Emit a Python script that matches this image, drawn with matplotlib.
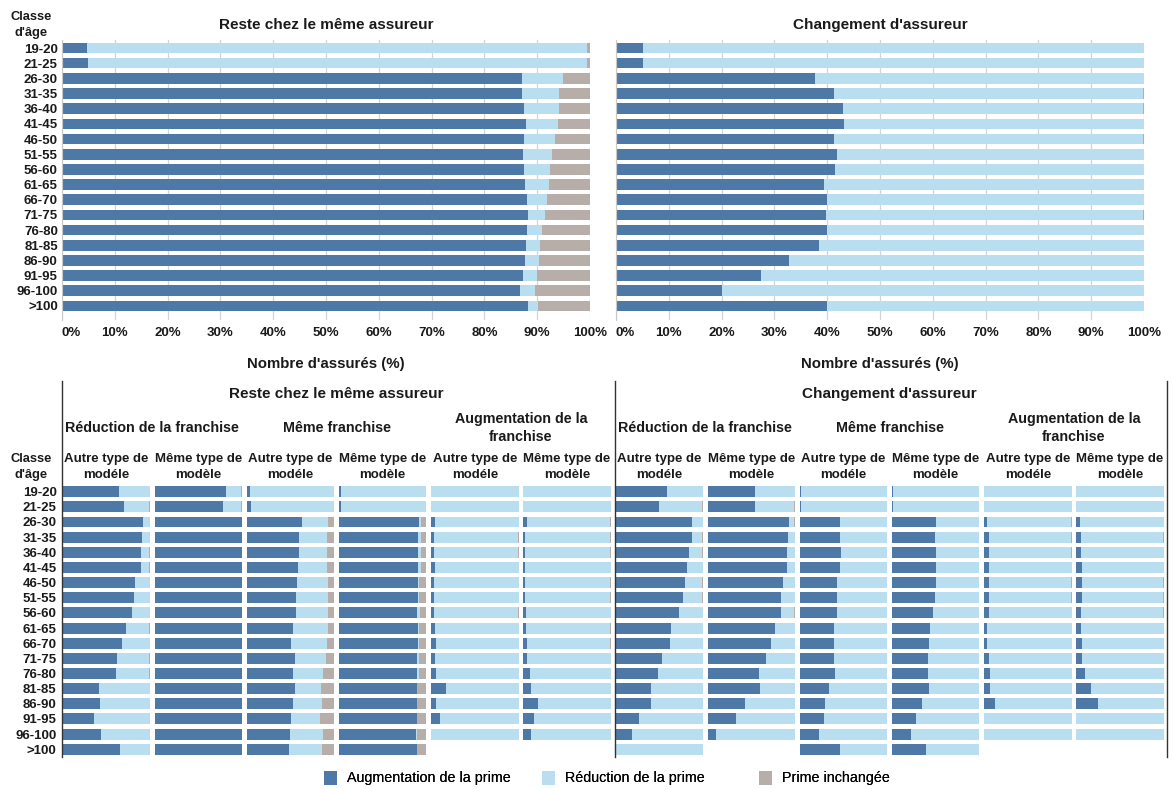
import numpy as np
import matplotlib
matplotlib.use("Agg")
import matplotlib.pyplot as plt
from matplotlib.patches import Patch
from matplotlib.lines import Line2D

plt.rcParams['font.family'] = ['Liberation Sans', 'DejaVu Sans']

# ---------------- DATA ----------------
age_classes = ["19-20", "21-25", "26-30", "31-35", "36-40", "41-45", "46-50", "51-55", "56-60",
               "61-65", "66-70", "71-75", "76-80", "81-85", "86-90", "91-95", "96-100", ">100"]
series_labels = ["Augmentation de la prime", "Réduction de la prime", "Prime inchangée"]
pct_ticks = [0, 10, 20, 30, 40, 50, 60, 70, 80, 90, 100]

# Top panels
stay_inc = [4.8, 5.0, 87.1, 87.1, 87.5, 87.8, 87.5, 87.3, 87.5, 87.7, 88.0, 88.2, 88.0, 87.8, 87.7, 87.3, 86.7, 88.2]
stay_red = [94.7, 94.5, 7.7, 7.0, 6.6, 6.1, 5.9, 5.5, 5.0, 4.6, 3.9, 3.2, 2.9, 2.7, 2.6, 2.7, 2.9, 2.0]
stay_unch = [0.5, 0.5, 5.2, 5.9, 5.9, 6.1, 6.6, 7.2, 7.5, 7.7, 8.1, 8.6, 9.1, 9.5, 9.7, 10.0, 10.4, 9.8]

chg_inc = [5.2, 5.2, 37.7, 41.3, 43.0, 43.2, 41.3, 41.8, 41.5, 39.3, 39.9, 39.8, 39.9, 38.4, 32.7, 27.5, 20.1, 39.9]
chg_red = [94.8, 94.8, 62.3, 58.5, 56.8, 56.8, 58.5, 58.2, 58.5, 60.7, 60.1, 60.0, 60.1, 61.6, 67.3, 72.5, 79.9, 60.1]
chg_unch = [0, 0, 0, 0.2, 0.2, 0, 0.2, 0, 0, 0, 0, 0.2, 0, 0, 0, 0, 0, 0]

NA = np.nan
# Bottom panels: stay (Reste chez le même assureur)
s_redf_autre_inc = [65.0, 70.4, 92.7, 91.5, 90.4, 90.4, 83.1, 81.9, 79.2, 72.3, 68.1, 62.7, 61.2, 41.5, 43.1, 36.2, 44.2, 66.5]
s_redf_autre_red = [35.0, 28.8, 7.3, 8.5, 8.8, 8.8, 16.9, 18.1, 20.8, 26.9, 31.9, 36.5, 38.0, 58.5, 56.9, 63.8, 55.8, 33.5]
s_redf_autre_unch = [0, 0.8, 0, 0, 0.8, 0.8, 0, 0, 0, 0.8, 0, 0.8, 0.8, 0, 0, 0, 0, 0]

s_redf_meme_inc = [82.1, 77.9, 100, 100, 100, 100, 100, 100, 100, 100, 100, 100, 100, 100, 100, 100, 100, 100]
s_redf_meme_red = [16.9, 21.1, 0, 0, 0, 0, 0, 0, 0, 0, 0, 0, 0, 0, 0, 0, 0, 0]
s_redf_meme_unch = [1.0, 1.0, 0, 0, 0, 0, 0, 0, 0, 0, 0, 0, 0, 0, 0, 0, 0, 0]

s_samef_autre_inc = [3.4, 5.0, 63.0, 60.3, 60.3, 58.8, 57.6, 56.1, 56.1, 53.4, 50.8, 55.0, 53.4, 55.0, 53.4, 50.8, 49.2, 48.1]
s_samef_autre_red = [96.6, 94.2, 29.7, 30.9, 30.9, 32.4, 35.1, 36.6, 36.6, 39.3, 40.4, 35.1, 34.0, 29.7, 32.9, 32.8, 38.2, 38.2]
s_samef_autre_unch = [0, 0.8, 7.3, 8.8, 8.8, 8.8, 7.3, 7.3, 7.3, 7.3, 8.8, 9.9, 12.6, 15.3, 13.7, 16.4, 12.6, 13.7]

s_samef_meme_inc = [2.7, 2.7, 92.0, 90.2, 90.2, 90.2, 90.9, 90.2, 89.0, 90.2, 90.2, 89.0, 89.0, 89.0, 89.0, 89.0, 87.9, 89.0]
s_samef_meme_red = [96.5, 96.5, 1.6, 3.4, 3.4, 3.4, 1.1, 1.5, 3.4, 1.1, 0.8, 2.0, 2.0, 0.8, 0.8, 0.8, 1.9, 0.8]
s_samef_meme_unch = [0.8, 0.8, 6.4, 6.4, 6.4, 6.4, 8.0, 8.3, 7.6, 8.7, 9.0, 9.0, 9.0, 10.2, 10.2, 10.2, 10.2, 10.2]

s_augf_autre_inc = [0, 0, 4.2, 3.0, 3.0, 4.5, 3.0, 3.0, 3.0, 4.2, 5.7, 4.2, 5.7, 16.7, 5.7, 9.8, 0, NA]
s_augf_autre_red = [100, 100, 95.8, 96.2, 96.2, 95.5, 97.0, 97.0, 96.2, 95.8, 94.3, 95.8, 94.3, 83.3, 94.3, 90.2, 100, NA]
s_augf_autre_unch = [0, 0, 0, 0.8, 0.8, 0, 0, 0, 0.8, 0, 0, 0, 0, 0, 0, 0, 0, NA]

s_augf_meme_inc = [0, 0, 4.2, 1.5, 1.5, 1.5, 1.5, 1.5, 3.1, 2.7, 4.2, 4.2, 7.3, 8.5, 17.0, 12.7, 8.5, NA]
s_augf_meme_red = [100, 100, 95.0, 97.7, 97.7, 98.5, 97.7, 97.7, 96.9, 96.5, 95.0, 95.8, 92.7, 91.5, 83.0, 87.3, 91.5, NA]
s_augf_meme_unch = [0, 0, 0.8, 0.8, 0.8, 0, 0.8, 0.8, 0, 0.8, 0.8, 0, 0, 0, 0, 0, 0, NA]

# Bottom panels: change (Changement d'assureur)
c_redf_autre_inc = [58.6, 50.2, 87.4, 87.4, 84.7, 82.0, 79.3, 77.8, 72.4, 64.0, 62.8, 52.9, 48.7, 40.6, 40.6, 26.8, 19.5, 0]
c_redf_autre_red = [41.4, 49.0, 12.6, 11.8, 14.5, 18.0, 19.9, 21.4, 27.6, 36.0, 37.2, 47.1, 51.3, 59.4, 59.4, 73.2, 80.5, 100]
c_redf_autre_unch = [0, 0.8, 0, 0.8, 0.8, 0, 0.8, 0.8, 0, 0, 0, 0, 0, 0, 0, 0, 0, 0]

c_redf_meme_inc = [54.8, 54.8, 93.2, 92.0, 90.5, 90.5, 86.3, 83.7, 83.7, 76.8, 72.6, 67.3, 58.9, 60.5, 42.6, 33.1, 9.5, NA]
c_redf_meme_red = [45.2, 44.4, 6.0, 8.0, 9.5, 9.5, 13.7, 16.3, 15.5, 23.2, 27.4, 32.7, 41.1, 39.5, 57.4, 66.9, 90.5, NA]
c_redf_meme_unch = [0, 0.8, 0.8, 0, 0, 0, 0, 0, 0.8, 0, 0, 0, 0, 0, 0, 0, 0, NA]

c_samef_autre_inc = [1.5, 1.5, 45.6, 45.6, 46.8, 45.6, 42.6, 42.6, 42.6, 38.8, 38.8, 38.8, 39.9, 33.1, 28.9, 27.4, 22.1, 45.6]
c_samef_autre_red = [98.5, 97.7, 53.6, 53.6, 52.4, 53.6, 56.6, 56.6, 56.6, 60.4, 60.4, 60.4, 60.1, 66.9, 71.1, 72.6, 77.9, 54.4]
c_samef_autre_unch = [0, 0.8, 0.8, 0.8, 0.8, 0.8, 0.8, 0.8, 0.8, 0.8, 0.8, 0.8, 0, 0, 0, 0, 0, 0]

c_samef_meme_inc = [1.1, 1.1, 50.6, 49.1, 50.6, 50.6, 50.6, 49.1, 47.5, 43.8, 42.3, 40.8, 40.8, 42.3, 34.0, 27.2, 21.9, 39.2]
c_samef_meme_red = [98.9, 98.9, 48.6, 50.1, 48.6, 48.6, 48.6, 50.1, 51.7, 55.4, 56.9, 58.4, 58.4, 56.9, 66.0, 72.8, 78.1, 60.8]
c_samef_meme_unch = [0, 0, 0.8, 0.8, 0.8, 0.8, 0.8, 0.8, 0.8, 0.8, 0.8, 0.8, 0.8, 0.8, 0, 0, 0, 0]

c_augf_autre_inc = [0, 0, 3.8, 5.3, 5.3, 5.3, 5.3, 5.3, 5.3, 3.8, 3.8, 5.3, 6.8, 6.8, 12.1, 0, 0, NA]
c_augf_autre_red = [100, 100, 95.4, 93.9, 93.9, 94.7, 93.9, 93.9, 94.7, 96.2, 96.2, 94.7, 93.2, 93.2, 87.9, 100, 100, NA]
c_augf_autre_unch = [0, 0, 0.8, 0.8, 0.8, 0, 0.8, 0.8, 0, 0, 0, 0, 0, 0, 0, 0, 0, NA]

c_augf_meme_inc = [0, 0, 4.2, 5.7, 5.7, 6.8, 6.8, 6.8, 5.7, 5.7, 6.8, 6.8, 9.9, 16.7, 24.7, 0, 0, NA]
c_augf_meme_red = [100, 100, 95.8, 93.5, 94.3, 93.2, 92.4, 92.4, 93.5, 94.3, 93.2, 93.2, 90.1, 83.3, 75.3, 100, 100, NA]
c_augf_meme_unch = [0, 0, 0, 0.8, 0, 0, 0.8, 0.8, 0.8, 0, 0, 0, 0, 0, 0, 0, 0, NA]

group_titles = ["Reste chez le même assureur", "Changement d'assureur"]
franchise_titles = ["Réduction de la franchise", "Même franchise", "Augmentation de la\nfranchise"]
model_titles = ["Autre type de\nmodéle", "Même type de\nmodèle"]

bottom_panels = [
    (s_redf_autre_inc, s_redf_autre_red, s_redf_autre_unch),
    (s_redf_meme_inc, s_redf_meme_red, s_redf_meme_unch),
    (s_samef_autre_inc, s_samef_autre_red, s_samef_autre_unch),
    (s_samef_meme_inc, s_samef_meme_red, s_samef_meme_unch),
    (s_augf_autre_inc, s_augf_autre_red, s_augf_autre_unch),
    (s_augf_meme_inc, s_augf_meme_red, s_augf_meme_unch),
    (c_redf_autre_inc, c_redf_autre_red, c_redf_autre_unch),
    (c_redf_meme_inc, c_redf_meme_red, c_redf_meme_unch),
    (c_samef_autre_inc, c_samef_autre_red, c_samef_autre_unch),
    (c_samef_meme_inc, c_samef_meme_red, c_samef_meme_unch),
    (c_augf_autre_inc, c_augf_autre_red, c_augf_autre_unch),
    (c_augf_meme_inc, c_augf_meme_red, c_augf_meme_unch),
]

# ---------------- STYLE ----------------
C_INC = '#4E79A7'
C_RED = '#B8DEF0'
C_UNCH = '#B7ADA9'
colors = [C_INC, C_RED, C_UNCH]
TXT = '#1a1a1a'

W, H = 1173, 789
fig = plt.figure(figsize=(W / 100, H / 100), dpi=100)


def px_axes(x0, y0, x1, y1):
    return fig.add_axes([x0 / W, 1 - y1 / H, (x1 - x0) / W, (y1 - y0) / H])


def fig_text(x, y, s, **kw):
    fig.text(x / W, 1 - y / H, s, **kw)


def stacked(ax, inc, red, unch, height):
    y = np.arange(len(age_classes))
    inc = np.array(inc, dtype=float)
    red = np.array(red, dtype=float)
    unch = np.array(unch, dtype=float)
    ok = ~np.isnan(inc)
    ax.barh(y[ok], inc[ok], height=height, color=C_INC, linewidth=0)
    ax.barh(y[ok], red[ok], left=inc[ok], height=height, color=C_RED, linewidth=0)
    ax.barh(y[ok], unch[ok], left=(inc + red)[ok], height=height, color=C_UNCH, linewidth=0)


n = len(age_classes)
row_h = 15.15
# ---------------- TOP PANELS ----------------
top_y0 = 48 - row_h / 2
top_y1 = 306 + row_h / 2 + 6
extra = 6 / row_h
for i, (x0, x1, inc, red, unch, title) in enumerate([
        (62, 590, stay_inc, stay_red, stay_unch, group_titles[0]),
        (616, 1144, chg_inc, chg_red, chg_unch, group_titles[1])]):
    ax = px_axes(x0, top_y0, x1, top_y1)
    stacked(ax, inc, red, unch, 0.7)
    ax.set_xlim(0, 100)
    ax.set_ylim(n - 0.5 + extra, -0.5)
    ax.set_xticks(pct_ticks)
    ax.set_xticklabels([f"{t}%" for t in pct_ticks], fontsize=9.5, fontweight='bold', color=TXT)
    ax.get_xticklabels()[0].set_horizontalalignment('left')
    ax.tick_params(axis='x', length=0, pad=5)
    ax.grid(axis='x', color='#d4d4d4', linewidth=0.9)
    ax.set_axisbelow(True)
    for s in ['top', 'right', 'bottom']:
        ax.spines[s].set_visible(False)
    ax.spines['left'].set_color('#c8c8c8')
    ax.set_yticks(np.arange(n))
    if i == 0:
        ax.set_yticklabels(age_classes, fontsize=9.5, fontweight='bold', color=TXT)
        ax.tick_params(axis='y', length=0, pad=3)
    else:
        ax.set_yticklabels([])
        ax.tick_params(axis='y', length=0)
    ax.set_xlabel("Nombre d'assurés (%)", fontsize=10.8, fontweight='bold', color=TXT, labelpad=13)
    fig_text((x0 + x1) / 2, 25, title, ha='center', va='center', fontsize=11, fontweight='bold', color=TXT)

fig_text(31, 25, "Classe\nd'âge", ha='center', va='center', fontsize=9.3, fontweight='bold', color=TXT,
         linespacing=1.45)

# ---------------- BOTTOM PANELS ----------------
b_y0 = 491.7 - row_h / 2
b_y1 = b_y0 + n * row_h
pw = 87.5
step = 92.2
group_x0 = [62.3, 615.3]
for g in range(2):
    for k in range(6):
        idx = g * 6 + k
        x0 = group_x0[g] + k * step
        ax = px_axes(x0, b_y0, x0 + pw, b_y1)
        inc, red, unch = bottom_panels[idx]
        stacked(ax, inc, red, unch, 0.72)
        ax.set_xlim(0, 100)
        ax.set_ylim(n - 0.5, -0.5)
        ax.axis('off')
        if idx == 0:
            ax.axis('on')
            for s in ax.spines.values():
                s.set_visible(False)
            ax.set_xticks([])
            ax.set_yticks(np.arange(n))
            ax.set_yticklabels(age_classes, fontsize=9.5, fontweight='bold', color=TXT)
            ax.tick_params(axis='y', length=0, pad=4)
        fig_text(x0 + pw / 2, 467, model_titles[k % 2], ha='center', va='center', fontsize=9.5,
                 fontweight='bold', color=TXT, linespacing=1.4)
    for f in range(3):
        cx = group_x0[g] + (2 * f) * step + (step + pw) / 2
        fig_text(cx, 428, franchise_titles[f], ha='center', va='center',
                 fontsize=10.3, fontweight='bold', color=TXT, linespacing=1.35)
    gx = (group_x0[g] + group_x0[g] + 5 * step + pw) / 2
    fig_text(gx, 394, group_titles[g], ha='center', va='center', fontsize=11, fontweight='bold', color=TXT)

fig_text(31, 467, "Classe\nd'âge", ha='center', va='center', fontsize=9.3, fontweight='bold', color=TXT,
         linespacing=1.45)

# separator lines
for xl in [61.5, 615, 1167]:
    fig.add_artist(Line2D([xl / W, xl / W], [1 - 381 / H, 1 - 757 / H], color='#333333', linewidth=1.0))

# legend (one entry per position, as in the reference)
leg_x = [324, 542, 759]
for c, lab, lx in zip(colors, series_labels, leg_x):
    lg = fig.legend([Patch(facecolor=c, edgecolor='none')], [lab], loc='center left',
                    bbox_to_anchor=(lx / W, 1 - 778 / H), frameon=False, fontsize=10.3,
                    handlelength=0.9, handleheight=1.15, handletextpad=0.7,
                    borderpad=0, borderaxespad=0)
    fig.add_artist(lg)

fig.savefig("out.png", dpi=100)
